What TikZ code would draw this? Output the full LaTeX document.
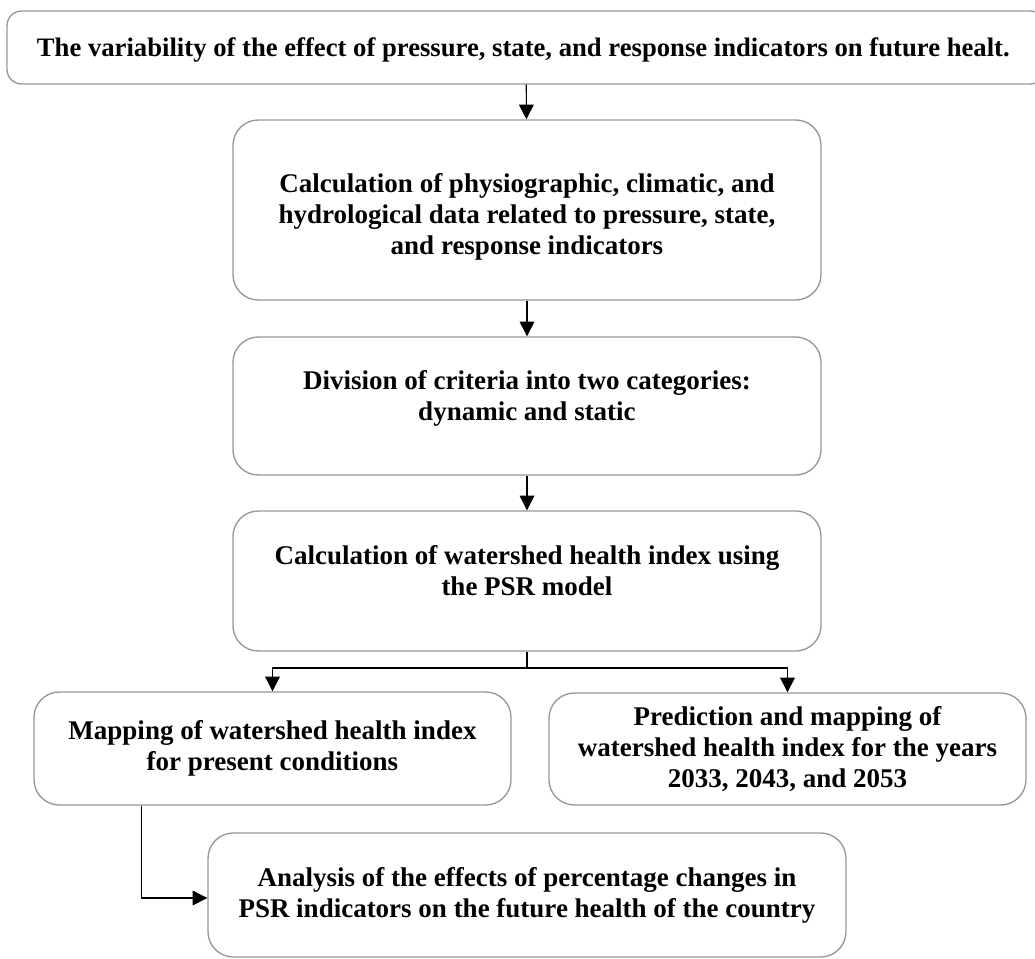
\documentclass[tikz,border=0pt]{standalone}
\usepackage{fontspec}
\setmainfont{Liberation Serif}
\usetikzlibrary{arrows.meta}
\definecolor{boxgray}{RGB}{150,150,150}
\tikzset{
  x=0.75pt, y=-0.75pt,
  box/.style={draw=boxgray, line width=1pt, rounded corners=19pt, inner sep=0pt},
  txt/.style={align=center, inner sep=0pt, font=\fontsize{20.25}{23.25}\selectfont\bfseries},
  arr/.style={draw=black, line width=0.8pt, -{Triangle[width=11pt,length=11pt]}}
}
\begin{document}
\begin{tikzpicture}
\useasboundingbox (0,0) rectangle (1035,959);
\node[box, rounded corners=11pt, minimum width=778.5pt, minimum height=54.75pt,
  label={[txt, font=\fontsize{20}{23.25}\selectfont\bfseries, xshift=-2pt, yshift=-1.5pt]center:The variability of the effect of pressure, state, and response indicators on future healt.}] (top) at (526,47.5) {};
\node[box, minimum width=441pt, minimum height=135pt,
  label={[txt, yshift=-5.25pt]center:Calculation of physiographic, climatic, and\\hydrological data related to pressure, state,\\and response indicators}] (b2) at (527,210) {};
\node[box, minimum width=441pt, minimum height=103.5pt,
  label={[txt, yshift=6pt]center:Division of criteria into two categories:\\dynamic and static}] (b3) at (527,406) {};
\node[box, minimum width=441pt, minimum height=105pt,
  label={[txt, yshift=7.5pt]center:Calculation of watershed health index using\\the PSR model}] (b4) at (527,581) {};
\node[box, minimum width=357.75pt, minimum height=84.75pt,
  label={[txt]center:Mapping of watershed health index\\for present conditions}] (b5) at (272.5,748.5) {};
\node[box, minimum width=357.75pt, minimum height=84pt,
  label={[txt]center:Prediction and mapping of\\watershed health index for the years\\2033, 2043, and 2053}] (b6) at (787.5,749) {};
\node[box, minimum width=478.5pt, minimum height=93pt,
  label={[txt]center:Analysis of the effects of percentage changes in\\PSR indicators on the future health of the country}] (b7) at (527,895) {};
\coordinate (br) at (527,668);
\draw[arr] (top) -- (b2);
\draw[arr] (b2) -- (b3);
\draw[arr] (b3) -- (b4);
\draw[draw=black, line width=0.8pt] (b4.south) -- (br);
\draw[arr] (br) -| (b5.north);
\draw[arr] (br) -| (b6.north);
\draw[arr] ([xshift=-98.6pt]b5.south) |- ([yshift=-2.25pt]b7.west);
\end{tikzpicture}
\end{document}
